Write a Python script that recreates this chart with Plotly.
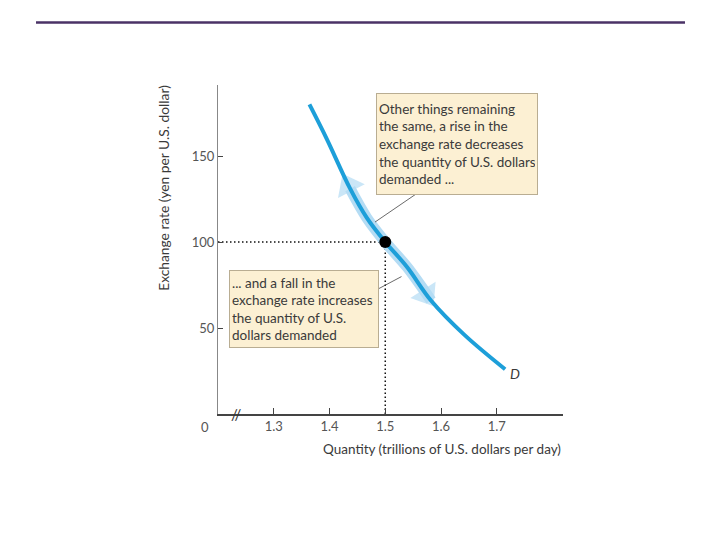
import plotly.graph_objects as go

# ---- data ----
quantity = [1.364, 1.395, 1.437, 1.467, 1.50, 1.539, 1.582, 1.642, 1.715]
exchange_rate = [180, 160, 131, 114, 100, 85.5, 66, 46, 26]
eq_quantity = 1.50
eq_rate = 100
x_ticks = [1.3, 1.4, 1.5, 1.6, 1.7]
x_tick_labels = ["1.3", "1.4", "1.5", "1.6", "1.7"]
y_ticks = [50, 100, 150]
y_tick_labels = ["50", "100", "150"]
band_idx = [2, 3, 4, 5, 6]
arrow_up = dict(tip=(1.434, 133), tail=(1.445, 126))
arrow_down = dict(tip=(1.574, 69), tail=(1.562, 75))
box_top_text = ("Other things remaining<br>the same, a rise in the<br>exchange rate decreases"
                "<br>the quantity of U.S. dollars<br>demanded ...")
box_bottom_text = ("... and a fall in the<br>exchange rate increases<br>the quantity of U.S."
                   "<br>dollars demanded")

X_RANGE = [1.2, 1.8188]
Y_RANGE = [0, 191.3]
FONT = "Lato"
CURVE = "#1d9fd9"
BAND = "#b4dcf4"
TXT = "#3a3a3a"

fig = go.Figure()

# dotted guide lines
fig.add_trace(go.Scatter(x=[X_RANGE[0], eq_quantity], y=[eq_rate, eq_rate], mode="lines",
                         line=dict(color="#111", width=1.5, dash="1.5px,2.5px"), hoverinfo="skip"))
fig.add_trace(go.Scatter(x=[eq_quantity, eq_quantity], y=[0, eq_rate], mode="lines",
                         line=dict(color="#111", width=1.5, dash="1.5px,2.5px"), hoverinfo="skip"))

# highlighted band along curve
fig.add_trace(go.Scatter(x=[quantity[i] for i in band_idx], y=[exchange_rate[i] for i in band_idx],
                         mode="lines", line=dict(color=BAND, width=11, shape="spline"),
                         hoverinfo="skip"))
# arrowheads of the band
for a in (arrow_up, arrow_down):
    fig.add_trace(go.Scatter(x=[a["tail"][0], a["tip"][0]], y=[a["tail"][1], a["tip"][1]],
                             mode="markers",
                             marker=dict(symbol=["circle", "triangle-up"], size=[0, 26],
                                         color=BAND, angleref="previous",
                                         line=dict(width=0)),
                             hoverinfo="skip"))

# demand curve
fig.add_trace(go.Scatter(x=quantity, y=exchange_rate, mode="lines",
                         line=dict(color=CURVE, width=4, shape="spline"), hoverinfo="skip"))

# equilibrium point
fig.add_trace(go.Scatter(x=[eq_quantity], y=[eq_rate], mode="markers",
                         marker=dict(color="black", size=12), hoverinfo="skip"))

ann = []
ann.append(dict(x=1.4834, y=186.5, xref="x", yref="y", xanchor="left", yanchor="top",
                text=box_top_text, showarrow=False, align="left", valign="middle",
                font=dict(family=FONT, size=13.5, color=TXT),
                bgcolor="#fcf0d3", bordercolor="#b9ad92", borderwidth=1, borderpad=2,
                width=156, height=96))
ann.append(dict(x=1.2197, y=83.5, xref="x", yref="y", xanchor="left", yanchor="top",
                text=box_bottom_text, showarrow=False, align="left", valign="middle",
                font=dict(family=FONT, size=13.5, color=TXT),
                bgcolor="#fcf0d3", bordercolor="#b9ad92", borderwidth=1, borderpad=2,
                width=144, height=72))

ann.append(dict(x=1.7327, y=23.3, xref="x", yref="y", text="<i>D</i>", showarrow=False,
                font=dict(family=FONT, size=14, color=TXT)))
ann.append(dict(x=-0.038, y=-0.04, xref="paper", yref="paper", text="0", showarrow=False,
                xanchor="center", yanchor="middle", font=dict(family=FONT, size=13, color="#555")))
ann.append(dict(x=1.2323, y=0, xref="x", yref="y", text="//", showarrow=False,
                font=dict(family=FONT, size=15, color="#333")))
ann.append(dict(x=1.0, y=-0.107, xref="paper", yref="paper", xanchor="right", yanchor="middle",
                text="Quantity (trillions of U.S. dollars per day)", showarrow=False,
                font=dict(family=FONT, size=13.5, color=TXT)))
ann.append(dict(x=-0.16, y=1.006, xref="paper", yref="paper", xanchor="center", yanchor="top",
                textangle=-90, text="Exchange rate (yen per U.S. dollar)", showarrow=False,
                font=dict(family=FONT, size=13.8, color=TXT)))

shapes = [
    dict(type="line", xref="x", yref="y", x0=1.5552, y0=127.9, x1=1.4816, y1=111.6,
         line=dict(color="#444", width=0.8)),
    dict(type="line", xref="x", yref="y", x0=1.5291, y0=79.9, x1=1.4843, y1=72.2,
         line=dict(color="#444", width=0.8)),
    dict(type="line", xref="paper", yref="paper", x0=-0.5275, x1=1.3536, y0=1.19, y1=1.19,
         line=dict(color="#4a3266", width=2.5)),
]

fig.update_layout(
    width=712, height=532,
    margin=dict(l=210, r=157, t=77, b=126),
    paper_bgcolor="white", plot_bgcolor="white",
    showlegend=False,
    annotations=ann, shapes=shapes,
    font=dict(family=FONT, color="#555"),
    xaxis=dict(range=X_RANGE, tickvals=x_ticks, ticktext=x_tick_labels, ticks="inside",
               ticklen=6, tickwidth=1.2, tickcolor="#444", showline=True, linecolor="#444",
               linewidth=1.6, showgrid=False, zeroline=False,
               tickfont=dict(family=FONT, size=13, color="#555"), fixedrange=True),
    yaxis=dict(range=Y_RANGE, tickvals=y_ticks, ticktext=y_tick_labels, ticks="inside",
               ticklen=5, tickwidth=1.2, tickcolor="#444", showline=True, linecolor="#888",
               linewidth=1, showgrid=False, zeroline=False,
               tickfont=dict(family=FONT, size=13, color="#555"), fixedrange=True),
)

fig.write_html("out.html")
